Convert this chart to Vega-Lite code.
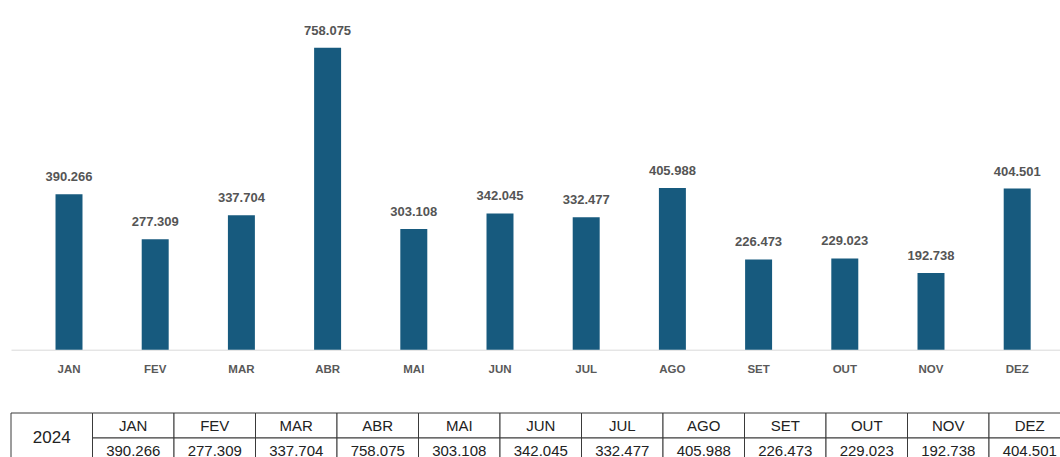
{
  "$schema": "https://vega.github.io/schema/vega-lite/v6.json",
  "background": "white",
  "padding": {"left": 10, "top": 24, "right": 0, "bottom": 0},
  "spacing": 36,
  "config": {
    "locale": {"number": {"decimal": ",", "thousands": ".", "grouping": [3], "currency": ["R$", ""]}},
    "view": {"stroke": null}
  },
  "datasets": {
    "mensal": [
      {"mes": "JAN", "valor": 390266},
      {"mes": "FEV", "valor": 277309},
      {"mes": "MAR", "valor": 337704},
      {"mes": "ABR", "valor": 758075},
      {"mes": "MAI", "valor": 303108},
      {"mes": "JUN", "valor": 342045},
      {"mes": "JUL", "valor": 332477},
      {"mes": "AGO", "valor": 405988},
      {"mes": "SET", "valor": 226473},
      {"mes": "OUT", "valor": 229023},
      {"mes": "NOV", "valor": 192738},
      {"mes": "DEZ", "valor": 404501}
    ],
    "ano": [{"ano": "2024"}]
  },
  "vconcat": [
    {
      "width": 1064.2,
      "height": 318.7,
      "data": {"name": "mensal"},
      "encoding": {
        "x": {
          "field": "mes", "type": "nominal", "sort": null,
          "scale": {"paddingInner": 0.687, "paddingOuter": 0.5164},
          "axis": {
            "title": null, "labelAngle": 0, "ticks": false, "grid": false,
            "domainColor": "#d9d9d9", "domainWidth": 1,
            "labelFont": "Liberation Sans", "labelFontSize": 11.5, "labelFontWeight": "bold",
            "labelColor": "#595959", "labelPadding": 14
          }
        },
        "y": {
          "field": "valor", "type": "quantitative",
          "scale": {"domain": [0, 800000]},
          "axis": null
        }
      },
      "layer": [
        {"mark": {"type": "bar", "color": "#175a7e"}},
        {
          "mark": {"type": "text", "baseline": "alphabetic", "dy": -13, "font": "Liberation Sans", "fontSize": 13, "fontWeight": "bold", "color": "#555555"},
          "encoding": {"text": {"field": "valor", "type": "quantitative", "format": ",d"}}
        }
      ]
    },
    {
      "width": 1059.5,
      "height": 50,
      "encoding": {
        "x": {
          "type": "nominal",
          "scale": {"domain": ["2024", "JAN", "FEV", "MAR", "ABR", "MAI", "JUN", "JUL", "AGO", "SET", "OUT", "NOV", "DEZ"], "paddingInner": 0, "paddingOuter": 0},
          "axis": null
        }
      },
      "layer": [
        {
          "data": {"name": "mensal"},
          "mark": {"type": "rect", "fill": "white", "stroke": "#3a3a3a", "strokeWidth": 1},
          "encoding": {
            "x": {"field": "mes", "type": "nominal", "axis": null},
            "y": {"datum": "h", "type": "ordinal", "scale": {"domain": ["h", "v"], "paddingInner": 0, "paddingOuter": 0}, "axis": null}
          }
        },
        {
          "data": {"name": "mensal"},
          "mark": {"type": "rect", "fill": "white", "stroke": "#3a3a3a", "strokeWidth": 1},
          "encoding": {
            "x": {"field": "mes", "type": "nominal", "axis": null},
            "y": {"datum": "v", "type": "ordinal", "axis": null}
          }
        },
        {
          "data": {"name": "mensal"},
          "mark": {"type": "text", "font": "Liberation Sans", "fontSize": 15, "color": "#222222"},
          "encoding": {
            "x": {"field": "mes", "type": "nominal", "axis": null},
            "y": {"datum": "h", "type": "ordinal", "axis": null},
            "text": {"field": "mes", "type": "nominal"}
          }
        },
        {
          "data": {"name": "mensal"},
          "mark": {"type": "text", "font": "Liberation Sans", "fontSize": 15, "color": "#222222"},
          "encoding": {
            "x": {"field": "mes", "type": "nominal", "axis": null},
            "y": {"datum": "v", "type": "ordinal", "axis": null},
            "text": {"field": "valor", "type": "quantitative", "format": ",d"}
          }
        },
        {
          "data": {"name": "ano"},
          "mark": {"type": "rect", "fill": "white", "stroke": "#3a3a3a", "strokeWidth": 1},
          "encoding": {"x": {"field": "ano", "type": "nominal", "axis": null}}
        },
        {
          "data": {"name": "ano"},
          "mark": {"type": "text", "font": "Liberation Sans", "fontSize": 17, "color": "#222222"},
          "encoding": {
            "x": {"field": "ano", "type": "nominal", "axis": null},
            "text": {"field": "ano", "type": "nominal"}
          }
        }
      ]
    }
  ]
}
